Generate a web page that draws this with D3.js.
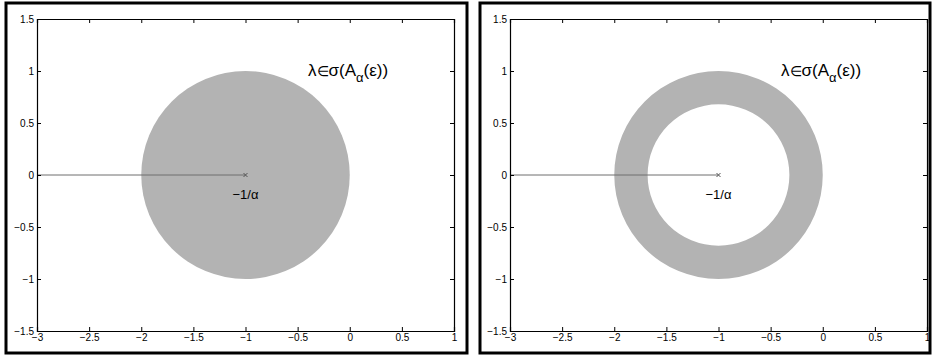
<!DOCTYPE html>
<html>
<head>
<meta charset="utf-8">
<script src="https://cdn.jsdelivr.net/npm/d3@7"></script>
<style>
  html, body { margin: 0; padding: 0; background: #fff; }
  svg { display: block; }
  .tick text { font-family: "Liberation Sans", Arial, sans-serif; font-size: 10px; fill: #000; }
</style>
</head>
<body>
<svg id="chart" width="932" height="356"></svg>
<script>
// Axis limits and tick values (shared by both panels)
const xDomain = [-3, 1];
const yDomain = [-1.5, 1.5];
const xTicks = [-3, -2.5, -2, -1.5, -1, -0.5, 0, 0.5, 1];
const yTicks = [-1.5, -1, -0.5, 0, 0.5, 1, 1.5];

// Spectrum region: centre and radii of the disc / annulus
const centre = [-1, 0];
const outerRadius = [1, 1];
const innerRadius = [0, 0.68];

// Ray from the left edge to the centre along the real axis
const rayX = [-3, -1];
const rayY = [0, 0];

// Annotations
const centreLabel = "−1/α";
const regionLabelPos = [-0.4, 0.95];
const centreLabelPos = [-1, -0.23];

// Panel layout
const panels = [
  { frame: [6, 3, 461, 350], plot: [37, 19, 417, 312] },
  { frame: [480, 3, 450, 350], plot: [510, 19, 417, 312] }
];

const svg = d3.select("#chart");
const font = '"Liberation Sans", Arial, sans-serif';

panels.forEach((p, i) => {
  // outer frame
  svg.append("rect")
    .attr("x", p.frame[0]).attr("y", p.frame[1])
    .attr("width", p.frame[2]).attr("height", p.frame[3])
    .attr("fill", "none").attr("stroke", "#000").attr("stroke-width", 3);

  const [px, py, pw, ph] = p.plot;
  const x = d3.scaleLinear().domain(xDomain).range([px, px + pw]);
  const y = d3.scaleLinear().domain(yDomain).range([py + ph, py]);
  const g = svg.append("g");

  // filled region (disc or annulus) via even-odd path
  const rx = x(centre[0] + outerRadius[i]) - x(centre[0]);
  const ry = y(centre[1]) - y(centre[1] + outerRadius[i]);
  const irx = x(centre[0] + innerRadius[i]) - x(centre[0]);
  const iry = y(centre[1]) - y(centre[1] + innerRadius[i]);
  const cx = x(centre[0]), cy = y(centre[1]);
  const ell = (a, b) => `M${cx - a},${cy}A${a},${b} 0 1,0 ${cx + a},${cy}A${a},${b} 0 1,0 ${cx - a},${cy}Z`;
  let d = ell(rx, ry);
  if (innerRadius[i] > 0) d += ell(irx, iry);
  g.append("path").attr("d", d).attr("fill", "#b3b3b3").attr("fill-rule", "evenodd");

  // ray along the real axis
  g.append("path")
    .attr("d", d3.line().x(v => x(v[0])).y(v => y(v[1]))(rayX.map((v, k) => [v, rayY[k]])))
    .attr("stroke", "#6e6e6e").attr("stroke-width", 1).attr("fill", "none");

  // x marker at the centre
  const mx = x(centre[0]), my = y(centre[1]), s = 2;
  g.append("path")
    .attr("d", `M${mx - s},${my - s}L${mx + s},${my + s}M${mx - s},${my + s}L${mx + s},${my - s}`)
    .attr("stroke", "#555").attr("stroke-width", 1);

  // labels
  g.append("text")
    .attr("x", x(centreLabelPos[0])).attr("y", y(centreLabelPos[1]))
    .attr("text-anchor", "middle")
    .attr("font-family", font).attr("font-size", 13)
    .text(centreLabel);

  const t = g.append("text")
    .attr("x", x(regionLabelPos[0])).attr("y", y(regionLabelPos[1]))
    .attr("font-family", font).attr("font-size", 17);
  t.append("tspan").text("λ");
  t.append("tspan").attr("font-size", 14).text("∈");
  t.append("tspan").text("σ(A");
  t.append("tspan").attr("dy", 6).attr("font-size", 13).text("α");
  t.append("tspan").attr("dy", -6).text("(ε))");

  // axes with inward ticks on all four sides
  const fmt = d3.format("");
  g.append("g").attr("transform", `translate(0,${py + ph})`)
    .call(d3.axisBottom(x).tickValues(xTicks).tickSize(-4).tickPadding(3).tickFormat(fmt));
  g.append("g").attr("transform", `translate(0,${py})`)
    .call(d3.axisTop(x).tickValues(xTicks).tickSize(-4).tickFormat(""));
  g.append("g").attr("transform", `translate(${px},0)`)
    .call(d3.axisLeft(y).tickValues(yTicks).tickSize(-4).tickPadding(3).tickFormat(fmt));
  g.append("g").attr("transform", `translate(${px + pw},0)`)
    .call(d3.axisRight(y).tickValues(yTicks).tickSize(-4).tickFormat(""));
  g.selectAll(".domain").attr("stroke", "#000").attr("stroke-width", 1.2);
  g.selectAll(".tick line").attr("stroke", "#000");
});
</script>
</body>
</html>
